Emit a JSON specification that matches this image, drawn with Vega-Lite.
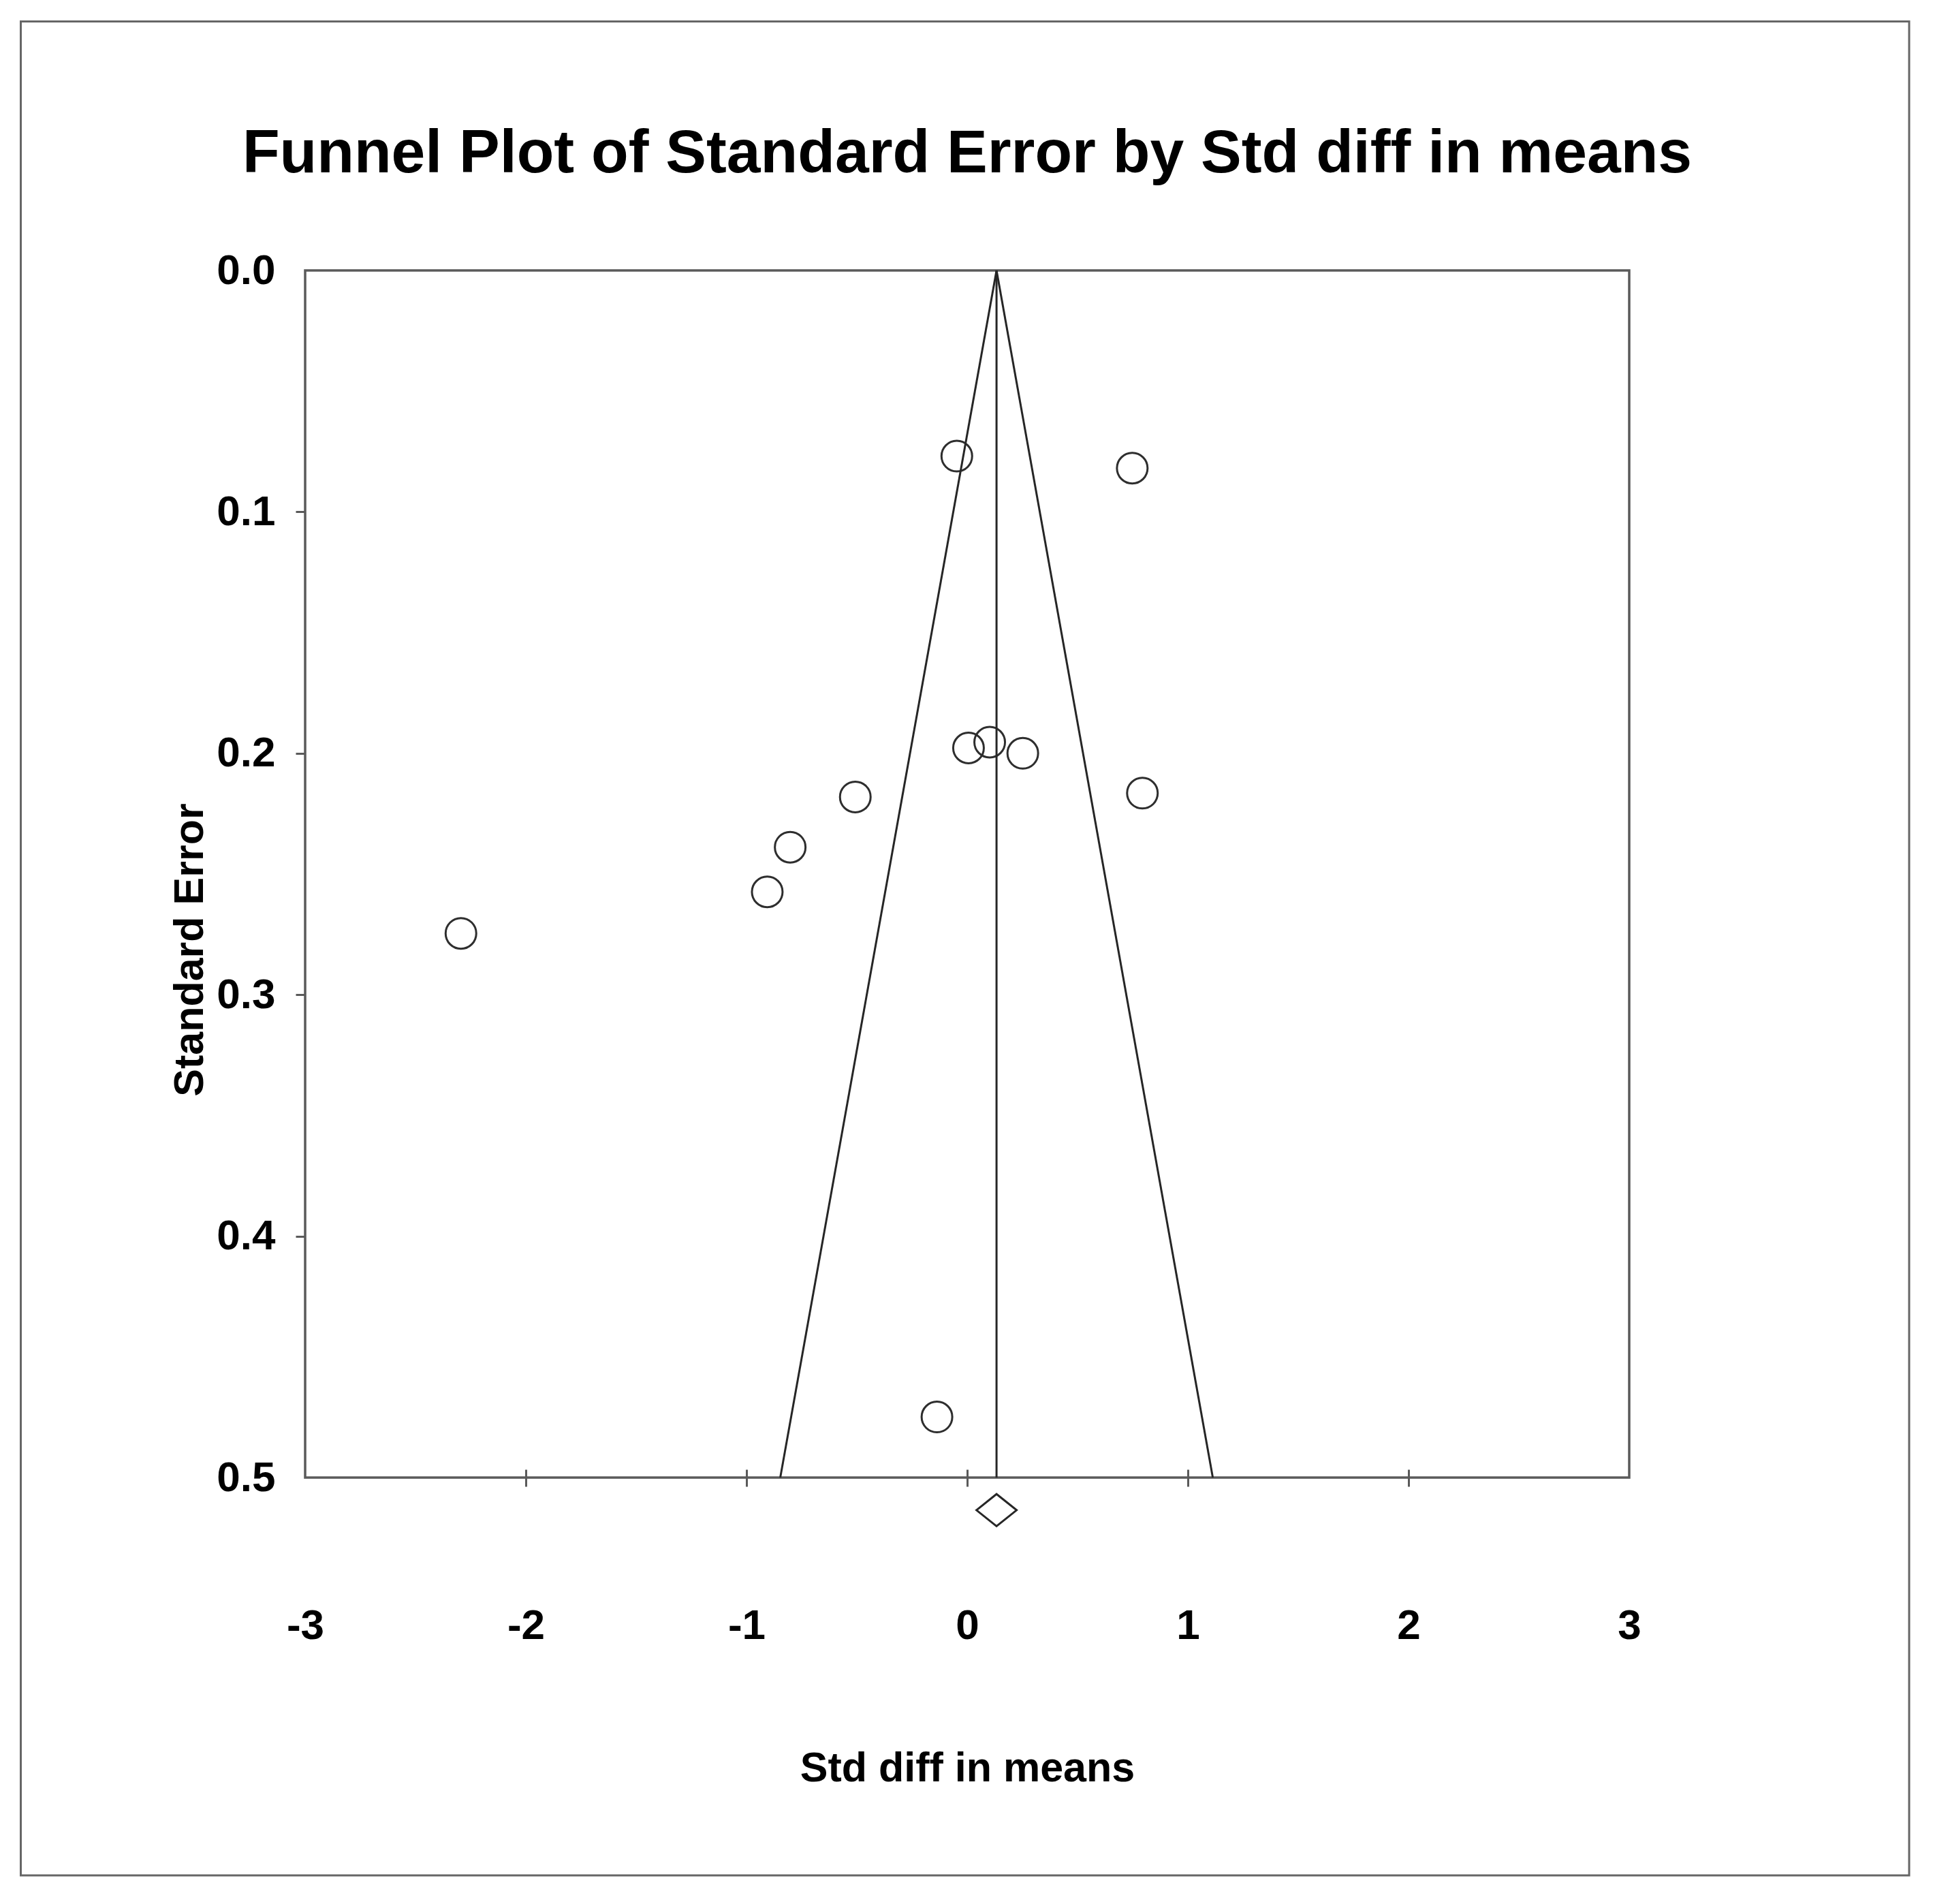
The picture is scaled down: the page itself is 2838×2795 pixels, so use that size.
{
  "$schema": "https://vega.github.io/schema/vega-lite/v6.json",
  "width": 1944,
  "height": 1772,
  "autosize": "none",
  "padding": {"left": 448, "top": 397, "right": 446, "bottom": 626},
  "background": "white",
  "config": {
    "view": {"stroke": "#5a5a5a", "strokeWidth": 3.5},
    "font": "Liberation Sans"
  },
  "datasets": {
    "studies": [
      {"d": -0.047, "se": 0.0769},
      {"d": 0.748, "se": 0.0819},
      {"d": 0.006, "se": 0.1978},
      {"d": 0.102, "se": 0.1954},
      {"d": 0.252, "se": 0.2000},
      {"d": 0.794, "se": 0.2165},
      {"d": -0.507, "se": 0.2181},
      {"d": -0.802, "se": 0.2389},
      {"d": -0.906, "se": 0.2574},
      {"d": -2.294, "se": 0.2746},
      {"d": -0.137, "se": 0.4749}
    ],
    "funnel": [
      {"side": "lower", "d": 0.133, "se": 0},
      {"side": "lower", "d": -0.847, "se": 0.5},
      {"side": "upper", "d": 0.133, "se": 0},
      {"side": "upper", "d": 1.113, "se": 0.5}
    ],
    "summary": [
      {"d": 0.133}
    ]
  },
  "layer": [
    {
      "data": {"name": "studies"},
      "mark": {"type": "point", "shape": "circle", "size": 2025, "filled": false, "stroke": "#2e2e2e", "strokeWidth": 3, "opacity": 1},
      "encoding": {
        "x": {
          "field": "d", "type": "quantitative",
          "scale": {"domain": [-3, 3], "nice": false, "zero": false},
          "axis": {
            "title": "Std diff in means",
            "orient": "bottom",
            "offset": -12,
            "values": [-3, -2, -1, 0, 1, 2, 3],
            "labelExpr": "'' + datum.value",
            "domain": false,
            "grid": false,
            "ticks": true,
            "tickSize": 25,
            "tickWidth": 3,
            "tickColor": "#5a5a5a",
            "tickOpacity": {"condition": {"test": "datum.value == -3 || datum.value == 3", "value": 0}, "value": 1},
            "labelFont": "Liberation Sans",
            "labelFontWeight": "bold",
            "labelFontSize": 62,
            "labelColor": "black",
            "labelBaseline": "alphabetic",
            "labelPadding": 223,
            "labelFlush": false,
            "labelOverlap": false,
            "titleFont": "Liberation Sans",
            "titleFontWeight": "bold",
            "titleFontSize": 61,
            "titleColor": "black",
            "titleBaseline": "alphabetic",
            "titleY": 457
          }
        },
        "y": {
          "field": "se", "type": "quantitative",
          "scale": {"domain": [0, 0.5], "reverse": true, "nice": false, "zero": false},
          "axis": {
            "title": "Standard Error",
            "orient": "left",
            "values": [0, 0.1, 0.2, 0.3, 0.4, 0.5],
            "format": ".1f",
            "domain": false,
            "grid": false,
            "ticks": true,
            "tickSize": 14,
            "tickWidth": 3,
            "tickColor": "#5a5a5a",
            "tickOpacity": {"condition": {"test": "datum.value == 0 || datum.value == 0.5", "value": 0}, "value": 1},
            "labelFont": "Liberation Sans",
            "labelFontWeight": "bold",
            "labelFontSize": 62,
            "labelColor": "black",
            "labelBaseline": "middle",
            "labelPadding": 30,
            "labelFlush": false,
            "labelOverlap": false,
            "titleFont": "Liberation Sans",
            "titleFontWeight": "bold",
            "titleFontSize": 61,
            "titleColor": "black",
            "titleAngle": -90,
            "titleAlign": "center",
            "titleBaseline": "alphabetic",
            "titleX": -151,
            "titleY": 997
          }
        }
      }
    },
    {
      "data": {"values": [{}]},
      "mark": {"type": "rect", "fill": "white", "fillOpacity": 0, "stroke": "#666666", "strokeWidth": 3},
      "encoding": {
        "x": {"datum": -4.2886, "type": "quantitative"},
        "x2": {"datum": 4.2685},
        "y": {"datum": -0.1031, "type": "quantitative"},
        "y2": {"datum": 0.6648}
      }
    },
    {
      "data": {"values": [{}]},
      "mark": {"type": "text", "text": "Funnel Plot of Standard Error by Std diff in means", "font": "Liberation Sans", "fontWeight": "bold", "fontSize": 89.5, "align": "center", "baseline": "alphabetic", "color": "black"},
      "encoding": {
        "x": {"datum": 0, "type": "quantitative"},
        "y": {"datum": -0.0405, "type": "quantitative"}
      }
    },
    {
      "data": {"name": "funnel"},
      "mark": {"type": "line", "stroke": "#262626", "strokeWidth": 3},
      "encoding": {
        "x": {"field": "d", "type": "quantitative"},
        "y": {"field": "se", "type": "quantitative"},
        "detail": {"field": "side"}
      }
    },
    {
      "data": {"name": "summary"},
      "mark": {"type": "rule", "stroke": "#262626", "strokeWidth": 3},
      "encoding": {
        "x": {"field": "d", "type": "quantitative"},
        "y": {"datum": 0, "type": "quantitative"},
        "y2": {"datum": 0.5}
      }
    },
    {
      "data": {"name": "summary"},
      "mark": {"type": "point", "shape": "M-1,0L0,-0.8L1,0L0,0.8Z", "size": 3481, "filled": false, "stroke": "#262626", "strokeWidth": 3, "opacity": 1},
      "encoding": {
        "x": {"field": "d", "type": "quantitative"},
        "y": {"datum": 0.5135, "type": "quantitative"}
      }
    }
  ]
}
